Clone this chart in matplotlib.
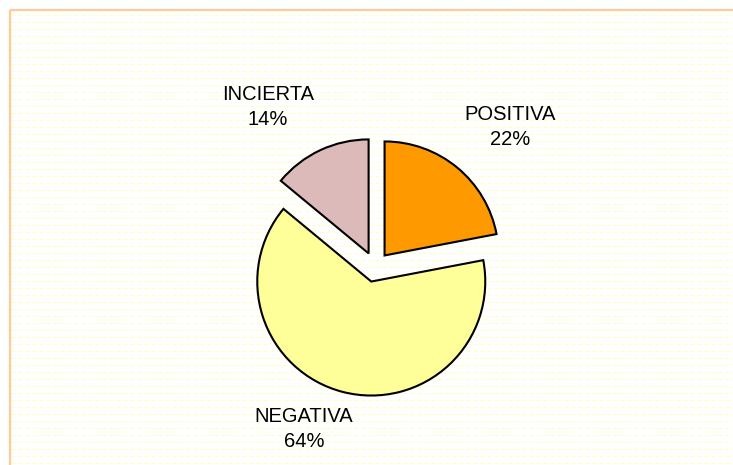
import matplotlib
matplotlib.use("Agg")
import matplotlib.pyplot as plt

# data
categories = ["POSITIVA", "NEGATIVA", "INCIERTA"]
values = [22, 64, 14]
colors = ["#FF9900", "#FFFF99", "#DDBABA"]

W, H = 733, 465

fig = plt.figure(figsize=(W / 100, H / 100), dpi=100, facecolor="white")
ax = fig.add_axes([0, 0, 1, 1])

# faint yellow dashed background of the plot area
for yi in range(15, H, 7):
    ax.plot([11, W], [H - yi, H - yi], color="#FFFFB8", lw=0.72,
            linestyle=(0, (4, 3)), zorder=0)

# orange border top and left
ax.plot([9.5, W], [H - 10, H - 10], color="#FFCC99", lw=1.6, zorder=1,
        solid_capstyle="butt")
ax.plot([9.5, 9.5], [0, H - 10], color="#FFCC99", lw=1.6, zorder=1,
        solid_capstyle="butt")

cx, cy = 375, H - 267
radius = 114
# explode is in data units (pixels here)
wedges, _ = ax.pie(values, colors=colors, startangle=90, counterclock=False,
                   explode=[15] * 3, radius=radius, center=(cx, cy),
                   wedgeprops=dict(edgecolor="black", linewidth=1.5),
                   frame=True)
for w in wedges:
    w.set_zorder(3)

# label positions (pixel layout)
label_pos = {"POSITIVA": (510, 127), "NEGATIVA": (304, 429), "INCIERTA": (268, 107)}
for name, v in zip(categories, values):
    x, y = label_pos[name]
    ax.text(x, H - y, f"{name}\n{v}%", ha="center", va="center",
            fontsize=14.5, family="Liberation Sans", linespacing=1.45,
            color="black", zorder=5)

ax.set_xlim(0, W)
ax.set_ylim(0, H)
ax.set_aspect("auto")
ax.axis("off")

fig.savefig("out.png", dpi=100, facecolor="white")
